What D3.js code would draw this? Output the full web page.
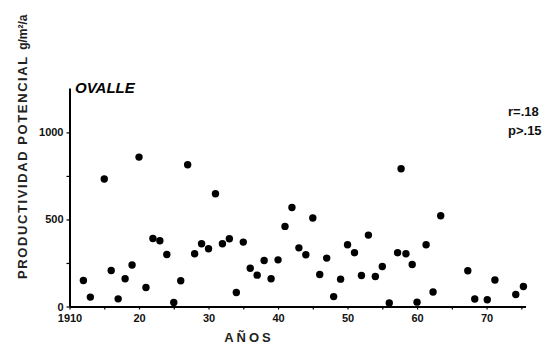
<!DOCTYPE html>
<html><head><meta charset="utf-8">
<script src="https://cdn.jsdelivr.net/npm/d3@7"></script>
<style>body{margin:0;background:#fff}svg{display:block}</style>
</head><body>
<script>
const years = [1912,1913,1915,1916,1917,1918,1919,1920,1921,1922,1923,1924,1925,1926,1927,1928,1929,1930,1931,1932,1933,1934,1935,1936,1937,1938,1939,1940,1941,1942,1943,1944,1945,1946,1947,1948,1949,1950,1951,1952,1953,1954,1955,1956,1957.2,1957.7,1958.4,1959.3,1960,1961.3,1962.3,1963.4,1967.3,1968.3,1970.1,1971.2,1974.2,1975.3];
const productividad = [149,54,732,207,44,159,238,858,109,391,378,299,23,148,814,303,360,332,648,360,389,80,370,220,180,264,159,268,460,569,337,297,508,184,278,57,157,355,309,178,410,172,230,20,309,791,303,241,25,355,83,521,205,43,39,152,69,115];
const xTicks = [1910,1915,1920,1925,1930,1935,1940,1945,1950,1955,1960,1965,1970,1975];
const xTickLabels = {1910:"1910",1920:"20",1930:"30",1940:"40",1950:"50",1960:"60",1970:"70"};
const yTicks = [0,250,500,750,1000];
const yTickLabels = {0:"0",500:"500",1000:"1000"};
const title = "OVALLE";
const yLabel = "PRODUCTIVIDAD POTENCIAL";
const yUnits = "g/m²/a";
const xLabel = "AÑOS";
const stats = ["r=.18","p>.15"];

const W=550,H=344;
const svg=d3.select("body").append("svg").attr("width",W).attr("height",H);
const x=d3.scaleLinear().domain([1910,1975.6]).range([69.5,525.5]);
const y=d3.scaleLinear().domain([0,1255]).range([306.5,88]);
const font="'Liberation Sans', Arial, sans-serif";

const gx=svg.append("g").attr("transform","translate(0,306.5)")
  .call(d3.axisBottom(x).tickValues(xTicks).tickSize(3).tickSizeOuter(0).tickPadding(5)
  .tickFormat(d=>xTickLabels[d]||""));
gx.select(".domain").attr("stroke","#000").attr("stroke-width",2);
gx.selectAll(".tick line").attr("stroke","#000").attr("stroke-width",1.2);
gx.selectAll(".tick text").attr("font-family",font).attr("font-size",11).attr("font-weight","bold").attr("fill","#111");

const gy=svg.append("g").attr("transform","translate(69.5,0)")
  .call(d3.axisLeft(y).tickValues(yTicks).tickSize(3).tickSizeOuter(0).tickPadding(3)
  .tickFormat(d=>yTickLabels[d]||""));
gy.select(".domain").attr("stroke","#000").attr("stroke-width",2);
gy.selectAll(".tick line").attr("stroke","#000").attr("stroke-width",1.2);
gy.selectAll(".tick text").attr("font-family",font).attr("font-size",11).attr("font-weight","bold").attr("fill","#111");

svg.append("g").selectAll("circle").data(years).join("circle")
  .attr("cx",(d)=>x(d)).attr("cy",(d,i)=>y(productividad[i])).attr("r",3.7).attr("fill","#000");

svg.append("text").attr("x",75).attr("y",93).text(title)
  .attr("font-family",font).attr("font-size",15).attr("font-style","italic").attr("font-weight","bold");

const yl=svg.append("text").attr("transform","translate(26.5,279) rotate(-90)")
  .attr("font-family",font).attr("fill","#222");
yl.append("tspan").text(yLabel).attr("font-size",13).attr("letter-spacing",1.6).attr("font-weight","bold");
yl.append("tspan").text(" "+yUnits).attr("font-size",12).attr("font-weight","bold").attr("dx",2);

svg.append("text").attr("x",249).attr("y",342).attr("text-anchor","middle").text(xLabel)
  .attr("font-family",font).attr("font-size",13).attr("letter-spacing",3).attr("font-weight","bold").attr("fill","#222");

svg.selectAll(".stat").data(stats).join("text").attr("class","stat")
  .attr("x",508).attr("y",(d,i)=>116+i*19).text(d=>d)
  .attr("font-family",font).attr("font-size",13).attr("font-weight","bold").attr("fill","#111");
</script>
</body></html>
